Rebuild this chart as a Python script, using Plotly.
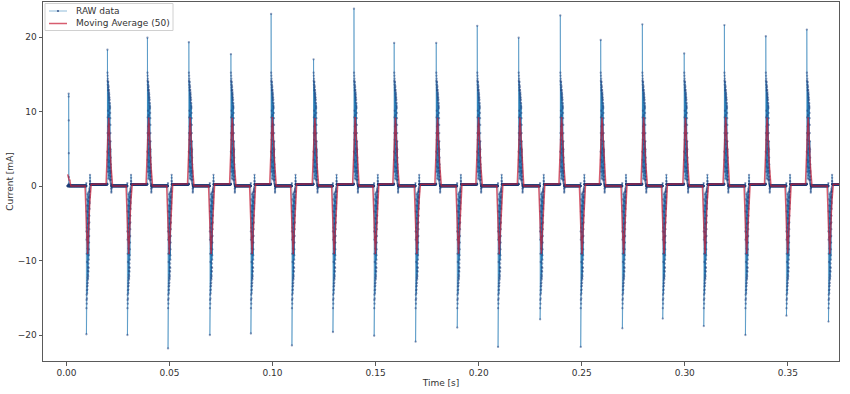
import numpy as np
import pandas as pd
import plotly.graph_objects as go

# ---- data ----
sample_dt = 2.5e-5          # s, sampling interval of the RAW trace
t_start = 0.0006            # s, first sample
t_end = 0.3760              # s
window = 50                 # moving-average window (samples)

pos_times = [0.0011, 0.0199, 0.0393, 0.0594, 0.0798, 0.0993, 0.1199, 0.1395, 0.1590, 0.1794,
             0.1993, 0.2194, 0.2396, 0.2592, 0.2794, 0.2997, 0.3192, 0.3393, 0.3592]
pos_peaks = [12.4, 18.3, 19.9, 19.3, 17.7, 23.1, 17.0, 23.8, 19.2, 19.2,
             21.5, 19.9, 22.9, 19.6, 21.7, 17.8, 21.6, 20.1, 21.0]

neg_times = [0.0097, 0.0296, 0.0493, 0.0696, 0.0895, 0.1094, 0.1293, 0.1493, 0.1694, 0.1896,
             0.2094, 0.2298, 0.2495, 0.2697, 0.2893, 0.3092, 0.3294, 0.3493, 0.3697]
neg_peaks = [-19.9, -20.0, -21.8, -20.0, -19.8, -21.4, -19.6, -20.1, -20.9, -19.0,
             -21.6, -17.9, -21.6, -19.1, -17.8, -18.8, -20.0, -17.4, -18.2]

# the first (partial) pulse at the start of the record: only a thin spike
first_pulse = [0.2, 12.4, 12.0, 8.8, 4.4, 1.2, 0.3]

# shape of one pulse after its extreme sample (upper / lower samples, interleaved)
pos_hi = [15.2, 14.1, 14.8, 13.6, 14.4, 13.9, 13.2, 14.0, 12.8, 13.5, 12.9, 13.3, 12.4, 12.9, 12.1, 12.6,
          11.8, 12.3, 11.5, 11.9, 11.2, 11.6, 10.8, 11.1, 10.4, 10.6, 9.8, 9.1, 8.2, 7.1, 6.0, 4.9, 3.8,
          2.9, 2.0, 1.3, 0.8]
pos_lo = [7.1, 3.5, 9.2, 1.9, 6.2, 10.1, 2.6, 8.0, 4.4, 1.0, 6.8, 9.5, 3.2, 5.6, 1.4, 8.3,
          4.9, 2.4, 7.0, 0.9, 4.1, 6.0, 2.0, 5.1, 0.8, 3.4, 1.7, 4.6, 0.6, 2.5, 1.2, 0.4, 1.8,
          0.3, 0.9, 0.2, 0.1]
pos_pre = [0.3, 4.6]
pos_post = [-0.4, -0.9, -0.7, -0.3, -0.1]

neg_hi = [-16.4, -15.3, -14.6, -15.8, -14.0, -15.1, -13.5, -14.4, -13.1, -13.9, -12.7, -13.4, -12.3, -13.0,
          -11.9, -12.5, -11.4, -12.1, -10.9, -11.5, -10.4, -11.0, -9.9, -9.3, -8.5, -7.6, -6.7, -5.8,
          -4.9, -4.0, -3.1, -2.3, -1.5, -0.8]
neg_lo = [-7.2, -3.4, -9.1, -1.8, -5.6, -10.2, -2.6, -6.9, -4.3, -8.4, -1.1, -6.2, -3.5, -9.0,
          -2.0, -5.1, -7.6, -0.9, -4.4, -6.8, -2.7, -5.0, -1.4, -3.9, -0.8, -3.0, -1.6, -0.6,
          -2.1, -0.4, -1.2, -0.3, -0.7, -0.1]
neg_pre = [0.4, -6.1]
neg_post = [0.7, 1.5, 1.1, 0.6, 0.25]

level_after_pos = 0.0       # baseline between a positive and the next negative pulse
level_after_neg = 0.22      # baseline between a negative and the next positive pulse

x_ticks = [0.00, 0.05, 0.10, 0.15, 0.20, 0.25, 0.30, 0.35]
x_ticktext = ["0.00", "0.05", "0.10", "0.15", "0.20", "0.25", "0.30", "0.35"]
y_ticks = [-20, -10, 0, 10, 20]
y_ticktext = ["\u221220", "\u221210", "0", "10", "20"]

legend_labels = ["RAW data", "Moving Average (%d)" % window]

# ---- assemble the RAW trace ----
t = np.arange(t_start, t_end, sample_dt)
raw = np.zeros_like(t)

def idx(tt):
    return int(round((tt - t_start) / sample_dt))

pos_body = np.column_stack([pos_hi, pos_lo]).ravel()
neg_body = np.column_stack([neg_hi, neg_lo]).ravel()

events = sorted([(tt, p, "pos") for tt, p in zip(pos_times, pos_peaks)] +
                [(tt, p, "neg") for tt, p in zip(neg_times, neg_peaks)])

for k, (tt, p, kind) in enumerate(events):
    i0 = idx(tt)
    i1 = idx(events[k + 1][0]) if k + 1 < len(events) else len(t)
    raw[i0:i1] = level_after_pos if kind == "pos" else level_after_neg

for k, (tt, p, kind) in enumerate(events):
    i0 = idx(tt)
    if k == 0:
        seg = np.asarray(first_pulse, dtype=float)
        start = i0 - 1
    elif kind == "pos":
        seg = np.concatenate([pos_pre, [p], pos_body, pos_post])
        start = i0 - len(pos_pre)
    else:
        seg = np.concatenate([neg_pre, [p], neg_body, neg_post])
        start = i0 - len(neg_pre)
    start = max(start, 0)
    stop = min(start + len(seg), len(t))
    raw[start:stop] = seg[:stop - start]

ma = pd.Series(raw).rolling(window, center=True, min_periods=1).mean().to_numpy()

# ---- styling ----
RAW_LINE = "rgba(31,119,180,0.5)"
RAW_MARK = "rgba(35,65,125,0.5)"
MA_LINE = "rgba(200,30,55,0.72)"
TXT = "#333333"
FONT = "DejaVu Sans"

fig = go.Figure()
fig.add_trace(go.Scatter(
    x=t, y=raw, mode="lines+markers", name=legend_labels[0], showlegend=False,
    line=dict(color=RAW_LINE, width=1),
    marker=dict(size=2.3, color=RAW_MARK, line=dict(width=0)),
))
fig.add_trace(go.Scatter(
    x=t, y=ma, mode="lines", name=legend_labels[1], showlegend=False,
    line=dict(color=MA_LINE, width=1.5),
))

axis_common = dict(
    showline=True, linecolor="#5a5a5a", linewidth=1, mirror=True,
    ticks="outside", ticklen=3.5, tickwidth=0.8, tickcolor="#5a5a5a",
    showgrid=False, zeroline=False,
    tickfont=dict(family=FONT, size=9, color=TXT),
)

# ---- compact legend box (paper coordinates), like matplotlib's ----
L, R, T, B = 43.0, 839.0, 2.0, 361.0
def px(x):
    return (x - L) / (R - L)
def py(y):
    return (B - y) / (B - T)

shapes = [
    dict(type="rect", xref="paper", yref="paper", x0=px(45), x1=px(173), y0=py(30.5), y1=py(3.5),
         line=dict(color="#d0d0d0", width=1), fillcolor="rgba(255,255,255,0.85)", layer="above"),
    dict(type="line", xref="paper", yref="paper", x0=px(49), x1=px(67), y0=py(11), y1=py(11),
         line=dict(color=RAW_LINE, width=1), layer="above"),
    dict(type="circle", xref="paper", yref="paper", x0=px(56.9), x1=px(59.1), y0=py(12.1), y1=py(9.9),
         line=dict(width=0), fillcolor="rgba(35,65,125,0.8)", layer="above"),
    dict(type="line", xref="paper", yref="paper", x0=px(49), x1=px(67), y0=py(23.5), y1=py(23.5),
         line=dict(color=MA_LINE, width=1.5), layer="above"),
]
annotations = [
    dict(xref="paper", yref="paper", x=px(74), y=py(11), text=legend_labels[0], showarrow=False,
         xanchor="left", yanchor="middle", font=dict(family=FONT, size=9, color=TXT)),
    dict(xref="paper", yref="paper", x=px(74), y=py(23.5), text=legend_labels[1], showarrow=False,
         xanchor="left", yanchor="middle", font=dict(family=FONT, size=9, color=TXT)),
]

fig.update_layout(
    width=850, height=394,
    margin=dict(l=43, r=11, t=2, b=33),
    paper_bgcolor="white", plot_bgcolor="white",
    showlegend=False,
    shapes=shapes, annotations=annotations,
    xaxis=dict(range=[-0.01136, 0.3748], tickvals=x_ticks, ticktext=x_ticktext,
               title=dict(text="Time [s]", font=dict(family=FONT, size=9, color=TXT), standoff=2),
               **axis_common),
    yaxis=dict(range=[-23.49, 24.70], tickvals=y_ticks, ticktext=y_ticktext,
               title=dict(text="Current [mA]", font=dict(family=FONT, size=9, color=TXT), standoff=2),
               **axis_common),
)

fig.write_html("out.html", config={"displayModeBar": False},
               post_script="document.body.style.margin='0';")
